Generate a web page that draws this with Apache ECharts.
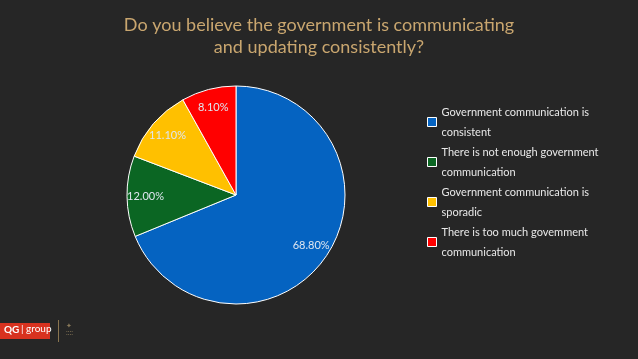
<!DOCTYPE html>
<html><head><meta charset="utf-8">
<script src="https://cdn.jsdelivr.net/npm/echarts@6/dist/echarts.min.js"></script>
<style>html,body{margin:0;padding:0;background:#262626}#c{width:638px;height:359px}</style>
</head><body><div id="c"></div>
<script>
const categories = [
  "Government communication is consistent",
  "There is not enough government communication",
  "Government communication is sporadic",
  "There is too much govemment communication"
];
const legendLabels = [
  "Government communication is\nconsistent",
  "There is not enough government\ncommunication",
  "Government communication is\nsporadic",
  "There is too much govemment\ncommunication"
];
const values = [68.8, 12.0, 11.1, 8.1];
const colors = ["#0563c1", "#0b6623", "#ffc000", "#ff0000"];
const titleText = "Do you believe the government is communicating\nand updating consistently?";

const chart = echarts.init(document.getElementById('c'));
const data = categories.map((n, i) => ({ name: n, value: values[i], itemStyle: { color: colors[i] } }));
chart.setOption({
  backgroundColor: '#262626',
  animation: false,
  title: {
    text: titleText, left: 'center', top: 9,
    textStyle: { color: '#c9a66f', fontFamily: 'Lato', fontWeight: 'normal', fontSize: 18, lineHeight: 22 }
  },
  legend: {
    orient: 'vertical', left: 422, top: 97, itemWidth: 9, itemHeight: 9, itemGap: 0,
    icon: 'rect',
    itemStyle: { borderColor: '#ffffff', borderWidth: 1 },
    textStyle: { color: '#e8e8e8', fontFamily: 'Lato', fontSize: 11, lineHeight: 20 },
    formatter: name => legendLabels[categories.indexOf(name)],
    data: categories
  },
  series: [{
    type: 'pie', center: [236, 195], radius: [0, 109], startAngle: 90, clockwise: true,
    itemStyle: { borderColor: '#ffffff', borderWidth: 1 },
    label: { show: false }, labelLine: { show: false },
    data: data, silent: true
  }, {
    type: 'pie', center: [236, 195], radius: [66, 109], startAngle: 90, clockwise: true,
    itemStyle: { color: 'rgba(0,0,0,0)', borderWidth: 0 },
    label: { show: true, position: 'inside', color: '#dfe6f0', fontFamily: 'Lato', fontSize: 11,
      formatter: p => p.value.toFixed(2) + '%' },
    labelLine: { show: false }, silent: true,
    data: categories.map((n, i) => ({ name: n, value: values[i] }))
  }],
  graphic: [
    { type: 'rect', shape: { x: 0, y: 323, width: 50, height: 16 }, style: { fill: '#d8321f' } },
    { type: 'text', x: 4, y: 325, style: { text: 'QG', fill: '#fff', font: 'bold 10px Lato' } },
    { type: 'text', x: 21, y: 324, style: { text: '| group', fill: '#fff', font: '10px Lato' } },
    { type: 'rect', shape: { x: 58, y: 320, width: 1, height: 22 }, style: { fill: '#8a7550' } },
    { type: 'text', x: 66, y: 322, style: { text: '✦\n::::', fill: '#8a7a5a', font: '7px Lato' } }
  ]
});
</script></body></html>
